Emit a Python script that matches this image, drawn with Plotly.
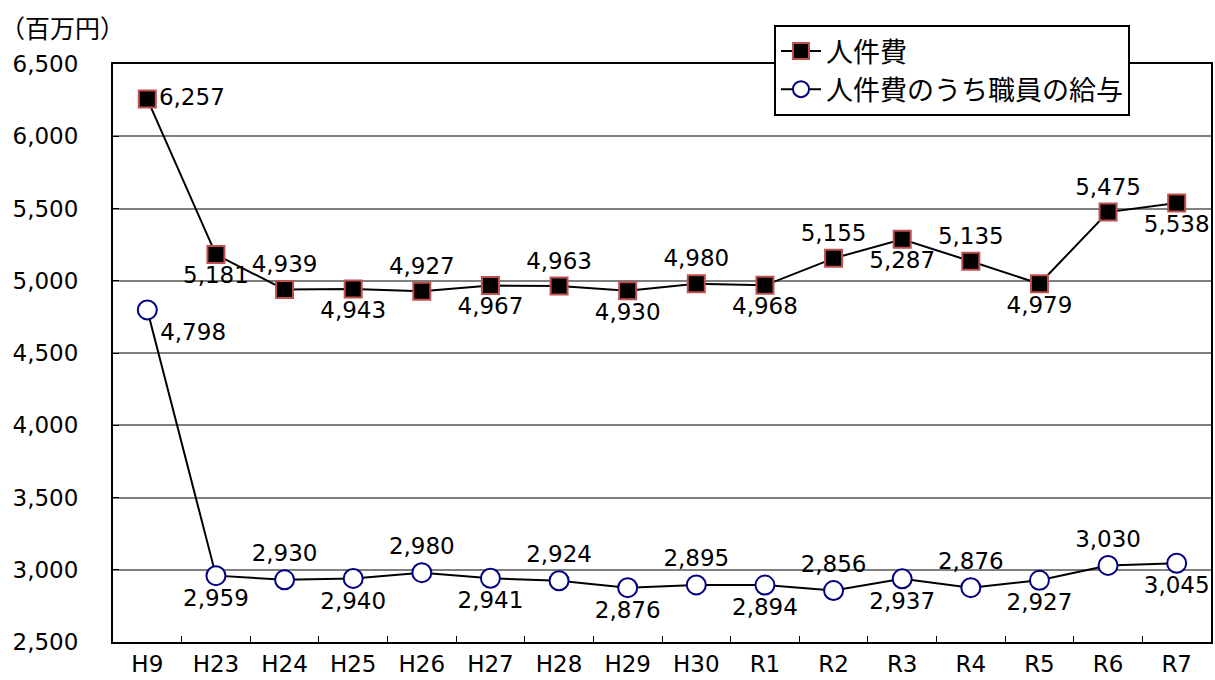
import plotly.graph_objects as go

# 年度
years = ["H9", "H23", "H24", "H25", "H26", "H27", "H28", "H29", "H30",
         "R1", "R2", "R3", "R4", "R5", "R6", "R7"]

# 人件費 (百万円)
jinkenhi = [6257, 5181, 4939, 4943, 4927, 4967, 4963, 4930, 4980,
            4968, 5155, 5287, 5135, 4979, 5475, 5538]

# 人件費のうち職員の給与 (百万円)
kyuyo = [4798, 2959, 2930, 2940, 2980, 2941, 2924, 2876, 2895,
         2894, 2856, 2937, 2876, 2927, 3030, 3045]

# ラベル位置
pos_jinkenhi = ["middle right", "bottom center", "top center", "bottom center",
                "top center", "bottom center", "top center", "bottom center",
                "top center", "bottom center", "top center", "bottom center",
                "top center", "bottom center", "top center", "bottom center"]
pos_kyuyo = ["bottom right", "bottom center", "top center", "bottom center",
             "top center", "bottom center", "top center", "bottom center",
             "top center", "bottom center", "top center", "bottom center",
             "top center", "bottom center", "top center", "bottom center"]

FONT = "DejaVu Sans, Noto Sans CJK JP"
CJK = "Noto Sans CJK JP"

fig = go.Figure()

fig.add_trace(go.Scatter(
    x=years, y=jinkenhi,
    mode="lines+markers+text",
    name="人件費",
    line=dict(color="black", width=2),
    marker=dict(symbol="square", size=17, color="black",
                line=dict(color="#C0504D", width=2)),
    text=[f"{v:,}" for v in jinkenhi],
    textposition=pos_jinkenhi,
    textfont=dict(size=23, color="black", family=FONT),
    cliponaxis=False,
))

fig.add_trace(go.Scatter(
    x=years, y=kyuyo,
    mode="lines+markers+text",
    name="人件費のうち職員の給与",
    line=dict(color="black", width=2),
    marker=dict(symbol="circle", size=19, color="white",
                line=dict(color="#000080", width=2)),
    text=[f"{v:,}" for v in kyuyo],
    textposition=pos_kyuyo,
    textfont=dict(size=23, color="black", family=FONT),
    cliponaxis=False,
))

fig.update_layout(
    width=1215, height=680,
    margin=dict(l=113, r=4, t=64, b=38, autoexpand=False),
    plot_bgcolor="white",
    paper_bgcolor="white",
    font=dict(family=FONT, size=23, color="black"),
    legend=dict(
        x=0.602, y=1.0675, xanchor="left", yanchor="top",
        bgcolor="white", bordercolor="black", borderwidth=2,
        font=dict(size=27, family=CJK),
        itemwidth=40, tracegroupgap=0,
    ),
    annotations=[dict(
        text="（百万円）", xref="paper", yref="paper",
        x=-0.105, y=1.064, xanchor="left", yanchor="middle",
        showarrow=False, font=dict(size=25, family=CJK),
    )],
)

fig.update_xaxes(
    type="category",
    range=[-0.5, 15.5],
    automargin=False,
    showline=True, linecolor="black", linewidth=2, mirror=True,
    ticks="inside", ticklen=6, tickcolor="black", tickwidth=1,
    tickson="boundaries",
    showgrid=False,
    tickfont=dict(size=23, family=FONT),
)

fig.update_yaxes(
    range=[2500, 6500], dtick=500,
    tickformat=",d",
    automargin=False,
    showline=True, linecolor="black", linewidth=2, mirror=True,
    ticks="inside", ticklen=6, tickcolor="black",
    showgrid=True, gridcolor="#808080", gridwidth=1.5,
    zeroline=False,
    ticklabelstandoff=28,
    tickfont=dict(size=23, family=FONT),
)

# ページ余白をなくす
fig.write_html("out.html", config={"displayModeBar": False},
               post_script="document.body.style.margin='0';")
